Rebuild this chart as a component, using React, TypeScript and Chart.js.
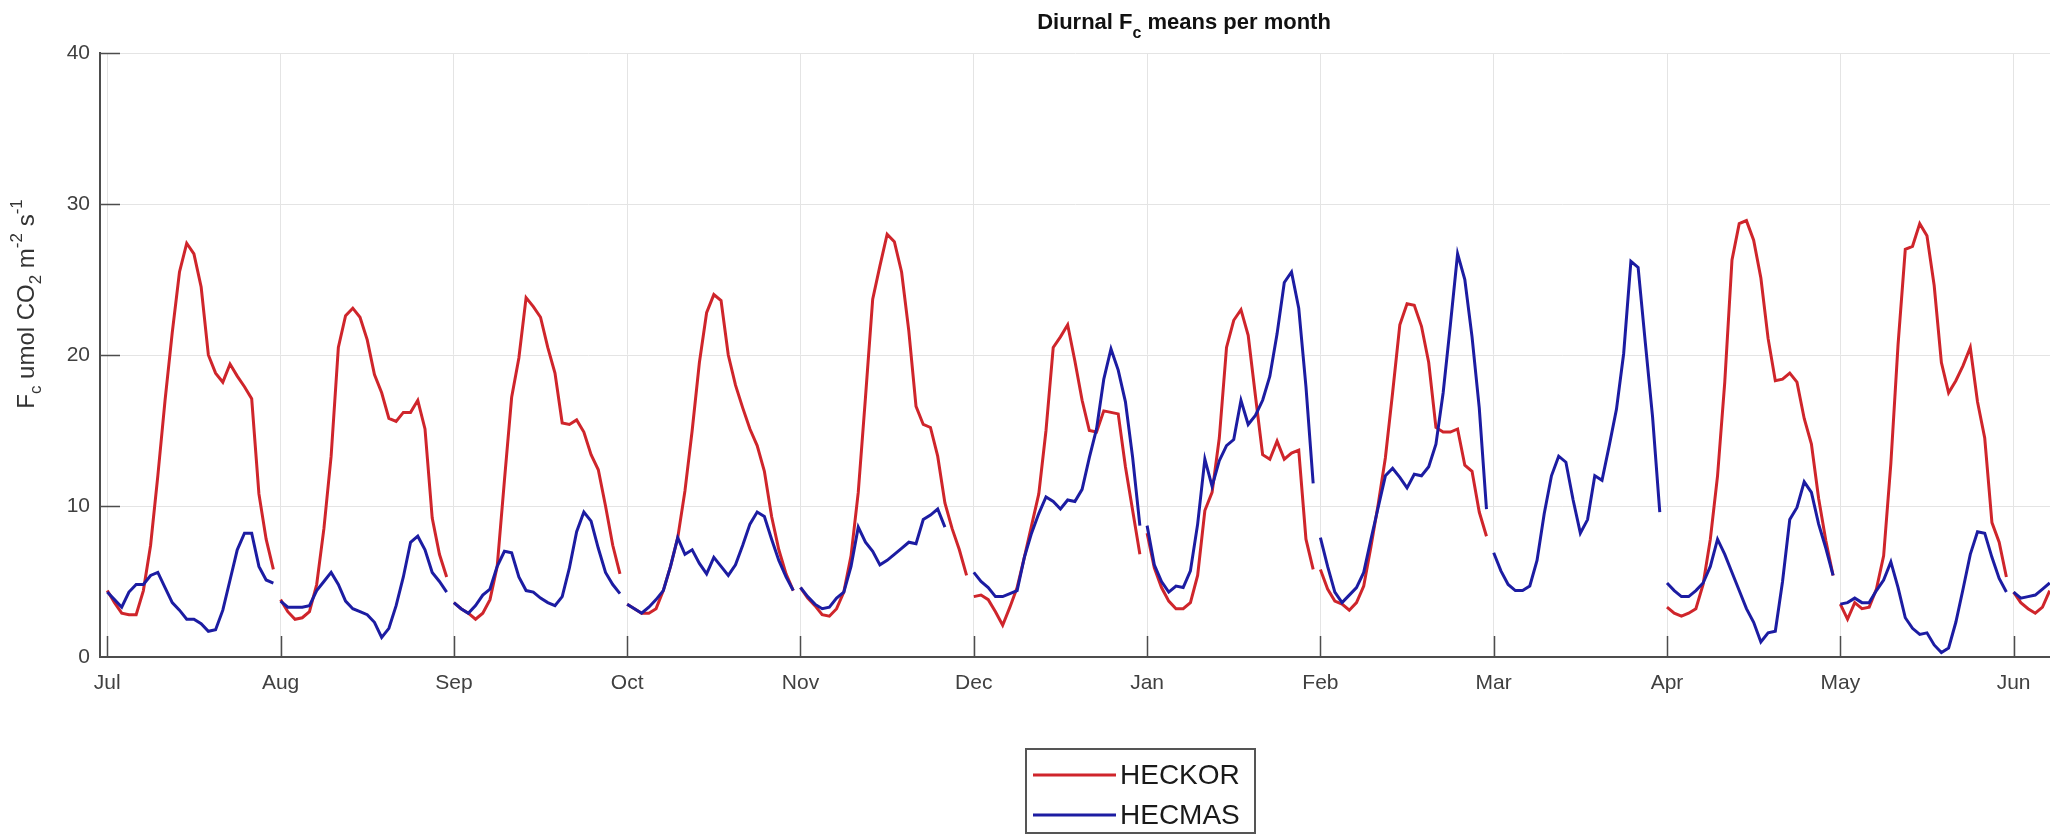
import React, { useEffect, useRef } from 'react';
import { Chart, registerables } from 'chart.js';

Chart.register(...registerables);

// ---------- data ----------
const MONTHS = ['Jul', 'Aug', 'Sep', 'Oct', 'Nov', 'Dec', 'Jan', 'Feb', 'Mar', 'Apr', 'May', 'Jun'];
const Y_TICKS = [0, 10, 20, 30, 40];
const SERIES_NAMES = ['HECKOR', 'HECMAS'];

// HECKOR hourly diurnal means (hour 0..23) per month
const HECKOR_JUL = [4.4, 3.6, 2.9, 2.8, 2.8, 4.4, 7.4, 12.0, 17.0, 21.5, 25.5, 27.4, 26.7, 24.5, 20.0, 18.8, 18.2, 19.4, 18.6, 17.9, 17.1, 10.8, 7.8, 5.8];
const HECKOR_AUG = [3.8, 3.0, 2.5, 2.6, 3.0, 4.8, 8.5, 13.3, 20.5, 22.6, 23.1, 22.5, 21.0, 18.7, 17.5, 15.8, 15.6, 16.2, 16.2, 17.0, 15.1, 9.2, 6.8, 5.3];
const HECKOR_SEP = [3.6, 3.2, 2.9, 2.5, 2.9, 3.8, 6.0, 11.7, 17.2, 19.8, 23.8, 23.2, 22.5, 20.5, 18.8, 15.5, 15.4, 15.7, 14.9, 13.4, 12.4, 10.0, 7.4, 5.5];
const HECKOR_OCT = [3.5, 3.2, 2.9, 2.9, 3.2, 4.4, 6.0, 7.9, 11.0, 15.0, 19.5, 22.8, 24.0, 23.6, 20.0, 18.0, 16.5, 15.1, 14.0, 12.3, 9.3, 7.1, 5.5, 4.4];
const HECKOR_NOV = [4.6, 3.9, 3.4, 2.8, 2.7, 3.2, 4.3, 6.7, 10.9, 17.2, 23.7, 25.9, 28.0, 27.5, 25.5, 21.6, 16.6, 15.4, 15.2, 13.3, 10.2, 8.5, 7.1, 5.4];
const HECKOR_DEC = [4.0, 4.1, 3.8, 3.0, 2.1, 3.3, 4.6, 6.6, 8.7, 10.8, 15.0, 20.5, 21.2, 22.0, 19.6, 17.0, 15.0, 14.9, 16.3, 16.2, 16.1, 12.6, 9.7, 6.8];
const HECKOR_JAN = [8.2, 5.9, 4.6, 3.7, 3.2, 3.2, 3.6, 5.4, 9.7, 10.9, 14.5, 20.5, 22.3, 23.0, 21.3, 17.3, 13.4, 13.1, 14.3, 13.1, 13.5, 13.7, 7.8, 5.8];
const HECKOR_FEB = [5.8, 4.5, 3.7, 3.5, 3.1, 3.6, 4.7, 7.3, 10.1, 13.2, 17.5, 22.0, 23.4, 23.3, 21.9, 19.5, 15.2, 14.9, 14.9, 15.1, 12.7, 12.3, 9.6, 8.0];
const HECKOR_MAR: number[] = [];
const HECKOR_APR = [3.3, 2.9, 2.7, 2.9, 3.2, 4.8, 7.8, 12.0, 18.2, 26.3, 28.7, 28.9, 27.6, 25.1, 21.1, 18.3, 18.4, 18.8, 18.2, 15.8, 14.1, 10.5, 7.7, 5.4];
const HECKOR_MAY = [3.5, 2.5, 3.6, 3.2, 3.3, 4.5, 6.7, 12.8, 20.7, 27.0, 27.2, 28.7, 27.9, 24.6, 19.5, 17.5, 18.3, 19.3, 20.5, 16.9, 14.5, 8.9, 7.6, 5.3];
const HECKOR_JUN = [4.3, 3.6, 3.2, 2.9, 3.3, 4.4];

// HECMAS hourly diurnal means (hour 0..23) per month
const HECMAS_JUL = [4.3, 3.8, 3.3, 4.3, 4.8, 4.8, 5.4, 5.6, 4.6, 3.6, 3.1, 2.5, 2.5, 2.2, 1.7, 1.8, 3.1, 5.1, 7.1, 8.2, 8.2, 6.0, 5.1, 4.9];
const HECMAS_AUG = [3.7, 3.3, 3.3, 3.3, 3.4, 4.4, 5.0, 5.6, 4.8, 3.7, 3.2, 3.0, 2.8, 2.3, 1.3, 1.9, 3.4, 5.3, 7.6, 8.0, 7.1, 5.6, 5.0, 4.3];
const HECMAS_SEP = [3.6, 3.2, 2.9, 3.4, 4.1, 4.5, 6.0, 7.0, 6.9, 5.3, 4.4, 4.3, 3.9, 3.6, 3.4, 4.0, 5.9, 8.3, 9.6, 9.0, 7.2, 5.6, 4.8, 4.2];
const HECMAS_OCT = [3.5, 3.2, 2.9, 3.3, 3.8, 4.4, 6.0, 7.9, 6.8, 7.1, 6.2, 5.5, 6.6, 6.0, 5.4, 6.1, 7.4, 8.8, 9.6, 9.3, 7.8, 6.4, 5.3, 4.4];
const HECMAS_NOV = [4.6, 4.0, 3.5, 3.2, 3.3, 3.9, 4.3, 6.0, 8.6, 7.6, 7.0, 6.1, 6.4, 6.8, 7.2, 7.6, 7.5, 9.1, 9.4, 9.8, 8.6, null, null, null];
const HECMAS_DEC = [5.6, 5.0, 4.6, 4.0, 4.0, 4.2, 4.4, 6.6, 8.2, 9.5, 10.6, 10.3, 9.8, 10.4, 10.3, 11.1, 13.2, 15.1, 18.4, 20.4, 19.0, 16.9, 13.2, 8.7];
const HECMAS_JAN = [8.7, 6.1, 5.0, 4.3, 4.7, 4.6, 5.7, 8.8, 13.1, 11.3, 13.0, 14.0, 14.4, 17.0, 15.4, 16.0, 17.0, 18.6, 21.4, 24.8, 25.5, 23.1, 17.9, 11.5];
const HECMAS_FEB = [7.9, 6.0, 4.3, 3.6, 4.1, 4.6, 5.6, 7.8, 9.9, 12.0, 12.5, 11.9, 11.2, 12.1, 12.0, 12.6, 14.1, 17.5, 22.0, 26.7, 25.0, 21.2, 16.5, 9.8];
const HECMAS_MAR = [6.9, 5.7, 4.8, 4.4, 4.4, 4.7, 6.4, 9.5, 12.0, 13.3, 12.9, 10.4, 8.2, 9.1, 12.0, 11.7, 14.0, 16.4, 20.1, 26.2, 25.8, 20.8, 15.9, 9.6];
const HECMAS_APR = [4.9, 4.4, 4.0, 4.0, 4.4, 4.9, 6.0, 7.8, 6.8, 5.6, 4.4, 3.2, 2.3, 1.0, 1.6, 1.7, 5.0, 9.1, 9.9, 11.6, 10.9, 8.8, 7.2, 5.4];
const HECMAS_MAY = [3.5, 3.6, 3.9, 3.6, 3.6, 4.4, 5.1, 6.3, 4.6, 2.6, 1.9, 1.5, 1.6, 0.8, 0.3, 0.6, 2.3, 4.5, 6.8, 8.3, 8.2, 6.6, 5.2, 4.3];
const HECMAS_JUN = [4.3, 3.9, 4.0, 4.1, 4.5, 4.9];

const HECKOR_MONTHS = [HECKOR_JUL, HECKOR_AUG, HECKOR_SEP, HECKOR_OCT, HECKOR_NOV, HECKOR_DEC, HECKOR_JAN, HECKOR_FEB, HECKOR_MAR, HECKOR_APR, HECKOR_MAY, HECKOR_JUN];
const HECMAS_MONTHS = [HECMAS_JUL, HECMAS_AUG, HECMAS_SEP, HECMAS_OCT, HECMAS_NOV, HECMAS_DEC, HECMAS_JAN, HECMAS_FEB, HECMAS_MAR, HECMAS_APR, HECMAS_MAY, HECMAS_JUN];

// ---------- helpers ----------
const FONT = '"Liberation Sans", Arial, Helvetica, sans-serif';
const RED = '#cf252b';
const BLUE = '#1c1ca2';

function buildSeries(months: (number | null)[][]) {
  const pts: { x: number; y: number | null }[] = [];
  months.forEach((vals, m) => {
    vals.forEach((v, h) => pts.push({ x: m + h / 24, y: v }));
    pts.push({ x: m + 0.985, y: null });
  });
  return pts;
}

type Part = { t: string; sub?: boolean; sup?: boolean };

function drawRich(ctx: CanvasRenderingContext2D, parts: Part[], cx: number, cy: number, size: number, weight: string, color: string, rotate: boolean, subDy: number) {
  ctx.save();
  ctx.translate(cx, cy);
  if (rotate) ctx.rotate(-Math.PI / 2);
  const fontFor = (p: Part) => `${weight} ${p.sub || p.sup ? Math.round(size * 0.72) : size}px ${FONT}`;
  let total = 0;
  for (const p of parts) {
    ctx.font = fontFor(p);
    total += ctx.measureText(p.t).width;
  }
  let x = -total / 2;
  ctx.fillStyle = color;
  ctx.textBaseline = 'middle';
  ctx.textAlign = 'left';
  for (const p of parts) {
    ctx.font = fontFor(p);
    const dy = p.sub ? size * subDy : p.sup ? -size * 0.42 : 0;
    ctx.fillText(p.t, x, dy);
    x += ctx.measureText(p.t).width;
  }
  ctx.restore();
}

const decorPlugin = {
  id: 'decor',
  afterDraw(chart: any) {
    const ctx: CanvasRenderingContext2D = chart.ctx;
    const { left, bottom } = chart.chartArea;
    const xs = chart.scales.x;
    const ys = chart.scales.y;

    // inward tick marks
    ctx.save();
    ctx.strokeStyle = '#4d4d4d';
    ctx.lineWidth = 1.5;
    ctx.beginPath();
    Y_TICKS.forEach((v) => {
      if (v === 0) return;
      const y = Math.round(ys.getPixelForValue(v)) + 0.5;
      ctx.moveTo(left, y);
      ctx.lineTo(left + 20, y);
    });
    MONTHS.forEach((_, i) => {
      const x = Math.round(xs.getPixelForValue(i)) + 0.5;
      ctx.moveTo(x, bottom);
      ctx.lineTo(x, bottom - 21);
    });
    ctx.stroke();
    ctx.restore();

    // title
    drawRich(ctx, [{ t: 'Diurnal F' }, { t: 'c', sub: true }, { t: ' means per month' }], 1184, 23, 22, 'bold', '#111', false, 0.5);

    // y-axis label
    drawRich(
      ctx,
      [{ t: 'F' }, { t: 'c', sub: true }, { t: ' umol CO' }, { t: '2', sub: true }, { t: ' m' }, { t: '-2', sup: true }, { t: ' s' }, { t: '-1', sup: true }],
      27, 304, 24, 'normal', '#333', true, 0.4
    );

    // legend
    const bx = 1026, by = 749, bw = 229, bh = 84;
    ctx.save();
    ctx.fillStyle = '#ffffff';
    ctx.fillRect(bx, by, bw, bh);
    ctx.strokeStyle = '#555';
    ctx.lineWidth = 2;
    ctx.strokeRect(bx, by, bw, bh);
    chart.data.datasets.forEach((ds: any, i: number) => {
      const cy = 775 + i * 40;
      ctx.strokeStyle = ds.borderColor;
      ctx.lineWidth = 3;
      ctx.beginPath();
      ctx.moveTo(bx + 7, cy);
      ctx.lineTo(bx + 90, cy);
      ctx.stroke();
      ctx.fillStyle = '#1a1a1a';
      ctx.font = `28px ${FONT}`;
      ctx.textBaseline = 'middle';
      ctx.textAlign = 'left';
      ctx.fillText(ds.label, bx + 94, cy + 1);
    });
    ctx.restore();
  },
};

export default function App() {
  const ref = useRef<HTMLCanvasElement | null>(null);

  useEffect(() => {
    if (!ref.current) return;
    const tickFont = { family: FONT, size: 21 };
    const chart = new Chart(ref.current, {
      type: 'line',
      data: {
        datasets: [
          {
            label: SERIES_NAMES[0],
            data: buildSeries(HECKOR_MONTHS),
            borderColor: RED,
            backgroundColor: RED,
            borderWidth: 3,
            pointRadius: 0,
            tension: 0,
            spanGaps: false,
            order: 1,
          },
          {
            label: SERIES_NAMES[1],
            data: buildSeries(HECMAS_MONTHS),
            borderColor: BLUE,
            backgroundColor: BLUE,
            borderWidth: 3,
            pointRadius: 0,
            tension: 0,
            spanGaps: false,
            order: 0,
          },
        ],
      },
      options: {
        animation: false,
        responsive: false,
        events: [],
        layout: { padding: { top: 53, right: 0, bottom: 0, left: 0 } },
        plugins: {
          legend: { display: false },
          title: { display: false },
          tooltip: { enabled: false },
        },
        scales: {
          x: {
            type: 'linear',
            min: -0.042,
            max: 11.21,
            afterBuildTicks: (s: any) => {
              s.ticks = MONTHS.map((_, i) => ({ value: i }));
            },
            afterFit: (s: any) => {
              s.height = 836 - 657;
            },
            ticks: {
              autoSkip: false,
              maxRotation: 0,
              padding: 14,
              color: '#404040',
              font: tickFont,
              callback: (v: any) => MONTHS[Math.round(Number(v))] ?? '',
            },
            grid: { color: '#e4e4e4', lineWidth: 1, drawTicks: false },
            border: { display: true, color: '#4d4d4d', width: 2 },
          },
          y: {
            type: 'linear',
            min: 0,
            max: 40,
            afterBuildTicks: (s: any) => {
              s.ticks = Y_TICKS.map((v) => ({ value: v }));
            },
            afterFit: (s: any) => {
              s.width = 100;
            },
            ticks: {
              padding: 10,
              color: '#404040',
              font: tickFont,
              callback: (v: any) => String(v),
            },
            grid: { color: '#e4e4e4', lineWidth: 1, drawTicks: false },
            border: { display: true, color: '#4d4d4d', width: 2 },
          },
        },
      } as any,
      plugins: [decorPlugin],
    });
    return () => chart.destroy();
  }, []);

  return (
    <div style={{ position: 'absolute', left: 0, top: 0, width: 2050, height: 836, background: '#fff' }}>
      <canvas ref={ref} width={2050} height={836} style={{ display: 'block', width: 2050, height: 836 }} />
    </div>
  );
}
